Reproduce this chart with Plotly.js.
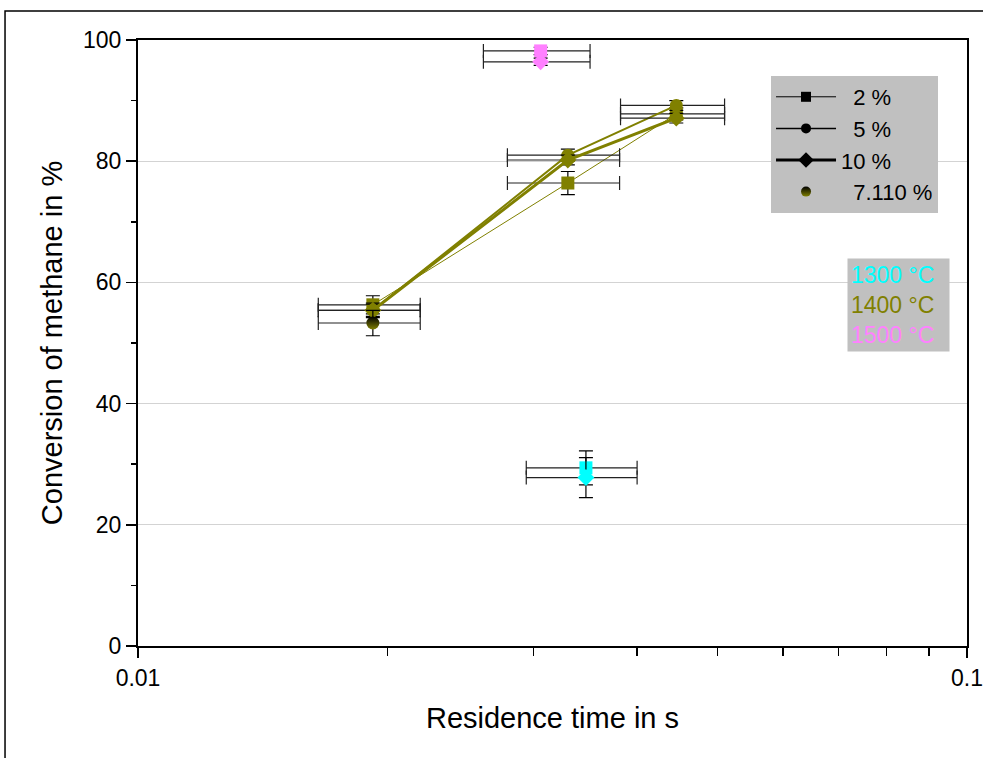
<!DOCTYPE html>
<html>
<head>
<meta charset="utf-8">
<script src="https://cdn.plot.ly/plotly-3.0.1.min.js"></script>
<style>html,body{margin:0;padding:0;background:#fff;}#chart{width:983px;height:758px;}</style>
</head>
<body>
<div id="chart"></div>
<script>
// ---- data ----
const x1400 = [0.0192, 0.0330, 0.0446];
const x1400Err = [0.0027, 0.0051, 0.0064];
const y1400_2 = [56.3, 76.4, 87.8];
const e1400_2 = [1.5, 1.9, 1.0];
const y1400_5 = [55.4, 81.0, 89.2];
const e1400_5 = [1.0, 1.0, 0.8];
const y1400_10 = [55.4, 80.2, 87.1];
const e1400_10 = [1.2, 0.8, 0.8];
const x1400_7 = [0.0192];
const x1400_7Err = [0.0027];
const y1400_7 = [53.3];
const e1400_7 = [2.1];

const x1500 = [0.0306];
const x1500Err = [0.0045];
const y1500_2 = [98.2];
const e1500_2 = [0.6];
const y1500_10 = [96.4];
const e1500_10 = [0.6];

const x1300 = [0.0347];
const x1300Err = [0.0053];
const y1300_2 = [29.4];
const e1300_2 = [2.8];
const y1300_10 = [27.8];
const e1300_10 = [3.3];

const seriesNames = ['2 %', '5 %', '10 %', '7.110 %'];
const tempLabels = ['1300 °C', '1400 °C', '1500 °C'];
const xTickVals = [0.01, 0.1];
const xTickText = ['0.01', '0.1'];
const xMinorVals = [0.02, 0.03, 0.04, 0.05, 0.06, 0.07, 0.08, 0.09];
const yTickVals = [0, 20, 40, 60, 80, 100];
const yMinorVals = [10, 30, 50, 70, 90];

// ---- styles ----
const OLIVE = '#808000', CYAN = '#00ffff', PINK = '#ff80ff';
function ex(arr){ return {type:'data', array: arr, visible:true, color:'#222', thickness:1.2, width:7}; }
function ey(arr){ return {type:'data', array: arr, visible:true, color:'#000', thickness:1.2, width:7}; }

const traces = [];
function dataTrace(x, xe, y, ye, color, symbol, mode, lw, extraMarker){
  const m = Object.assign({symbol: symbol, size: 13, color: color, line:{width:0}}, extraMarker||{});
  traces.push({x:x, y:y, type:'scatter', mode:mode, showlegend:false,
    line:{color:color, width:lw},
    marker:m, error_x: ex(xe), error_y: ey(ye), cliponaxis:false});
}
// 1400 C
dataTrace(x1400, x1400Err, y1400_2, e1400_2, OLIVE, 'square', 'lines+markers', 1);
dataTrace(x1400, x1400Err, y1400_5, e1400_5, OLIVE, 'circle', 'lines+markers', 2);
dataTrace(x1400, x1400Err, y1400_10, e1400_10, OLIVE, 'diamond', 'lines+markers', 3);
dataTrace(x1400_7, x1400_7Err, y1400_7, e1400_7, '#000', 'circle', 'markers', 0,
  {gradient:{type:'vertical', color: OLIVE}});
// 1500 C
dataTrace(x1500, x1500Err, y1500_2, e1500_2, PINK, 'square', 'markers', 1);
dataTrace(x1500, x1500Err, y1500_10, e1500_10, PINK, 'diamond', 'markers', 1);
// 1300 C
dataTrace(x1300, x1300Err, y1300_2, e1300_2, CYAN, 'square', 'markers', 1);
dataTrace(x1300, x1300Err, y1300_10, e1300_10, CYAN, 'diamond', 'markers', 1);

// legend-only traces (names padded so the "%" signs line up as in the original)
const legSym = ['square','circle','diamond','circle'];
const legW = [1, 1.5, 3, 0];
const legPad = ['\u00a0\u00a0', '\u00a0\u00a0', '', '\u00a0\u00a0'];
seriesNames.forEach((n,i)=>{
  const t = {x:[null], y:[null], type:'scatter', name: legPad[i] + n, showlegend:true,
    mode: i===3 ? 'markers' : 'lines+markers',
    line:{color:'#000', width:legW[i]},
    marker:{symbol:legSym[i], size: i===2 ? 12 : 10, color:'#000'}};
  if (i===3) t.marker = {symbol:'circle', size:10, color:'#000', gradient:{type:'vertical', color:OLIVE}};
  traces.push(t);
});

const tempColors = [CYAN, OLIVE, PINK];
const tempText = tempLabels.map((t,i)=>'<span style="color:'+tempColors[i]+'">'+t+'</span>').join('<br>');

const layout = {
  width: 983, height: 758,
  margin: {l:138, r:16, t:40, b:112},
  paper_bgcolor:'#fff', plot_bgcolor:'#fff',
  font: {family:'"Liberation Sans", Arial, sans-serif', color:'#000', size:23},
  showlegend: true,
  legend: {x:0.7636, y:0.9406, xanchor:'left', yanchor:'top', bgcolor:'#c0c0c0',
    borderwidth:0, font:{size:22}, tracegroupgap:0, itemwidth:60,
    traceorder:'normal'},
  xaxis: {type:'log', range:[-2,-1], tickmode:'array', tickvals:xTickVals, ticktext:xTickText,
    ticks:'outside', ticklen:10, tickwidth:1.5, tickcolor:'#000',
    minor:{tickmode:'array', tickvals:xMinorVals, ticks:'outside', ticklen:8, tickwidth:1.5, tickcolor:'#000', showgrid:false},
    showline:true, linecolor:'#000', linewidth:2, mirror:true, showgrid:false, zeroline:false,
    tickfont:{size:23},
    title:{text:'Residence time in s', font:{size:29}, standoff:18}},
  yaxis: {range:[0,100], tickmode:'array', tickvals:yTickVals,
    ticks:'outside', ticklen:10, tickwidth:1.5, tickcolor:'#000',
    minor:{tickmode:'array', tickvals:yMinorVals, ticks:'outside', ticklen:5, tickwidth:1.5, tickcolor:'#000', showgrid:false},
    showline:true, linecolor:'#000', linewidth:2, mirror:true,
    showgrid:true, gridcolor:'#d3d3d3', gridwidth:1, zeroline:false,
    tickfont:{size:23},
    title:{text:'Conversion of methane in %', font:{size:29}, standoff:12}},
  annotations: [{xref:'paper', yref:'paper', x:0.8553, y:0.6403, xanchor:'left', yanchor:'top',
    text: tempText, showarrow:false, align:'left', bgcolor:'#c0c0c0',
    font:{size:23}, borderpad:3, width:95}],
  shapes: [{type:'rect', xref:'paper', yref:'paper', x0:-0.1604, x1:1.06, y0:-0.25, y1:1.0479,
    line:{color:'#000', width:1.5}, fillcolor:'rgba(0,0,0,0)', layer:'below'}]
};

Plotly.newPlot('chart', traces, layout, {displayModeBar:false, staticPlot:true});
</script>
</body>
</html>
